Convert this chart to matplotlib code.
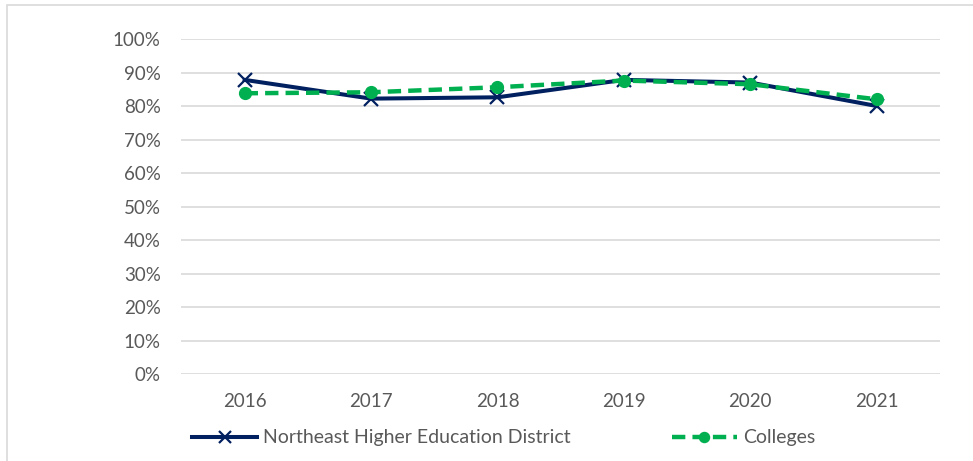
import matplotlib
matplotlib.use("Agg")
import matplotlib.pyplot as plt
from matplotlib.patches import Rectangle
from matplotlib.ticker import PercentFormatter

# values
years = ['2016', '2017', '2018', '2019', '2020', '2021']
nehed = [0.878, 0.822, 0.826, 0.878, 0.870, 0.800]
colleges = [0.838, 0.841, 0.856, 0.876, 0.865, 0.820]

NAME_1 = "Northeast Higher Education District"
NAME_2 = "Colleges"

plt.rcParams['font.family'] = ['Lato', 'DejaVu Sans']
TXT = '#595959'
GRID = '#d9d9d9'

fig = plt.figure(figsize=(9.73, 4.61), dpi=100)
ax = fig.add_axes([0.1865, 0.1887, 0.7795, 0.7267])

x = list(range(len(years)))
ax.plot(x, nehed, color='#002060', lw=2.9, marker='x', ms=10, mew=1.6,
        label=NAME_1, clip_on=False, zorder=3)
ax.plot(x, colleges, color='#00b050', lw=3.2, ls=(0, (3, 1.6)), marker='o',
        ms=8.5, label=NAME_2, clip_on=False, zorder=4)

ax.set_xlim(-0.5, len(years) - 0.5)
ax.set_ylim(0, 1)
ax.set_yticks([i / 10 for i in range(11)])
ax.yaxis.set_major_formatter(PercentFormatter(1.0, decimals=0))
ax.set_xticks(x)
ax.set_xticklabels(years)
ax.tick_params(length=0, labelsize=13.5, colors=TXT)
ax.tick_params(axis='y', pad=15)
ax.tick_params(axis='x', pad=14)
ax.grid(axis='y', color=GRID, lw=1.2)
ax.set_axisbelow(True)
for s in ax.spines.values():
    s.set_visible(False)

leg = fig.legend(loc='center', bbox_to_anchor=(0.5175, 0.05), ncol=2,
                 frameon=False, fontsize=14, labelcolor=TXT, handlelength=3.35,
                 handletextpad=0.3, columnspacing=5.2, markerscale=0.85)

# light border of the chart area (cut off at right and bottom)
fig.patches.append(Rectangle((7 / 973, -0.1), 1.1, 1.1 - 5 / 461,
                             transform=fig.transFigure, fill=False,
                             ec=GRID, lw=1.2))

fig.savefig('out.png', dpi=100)
